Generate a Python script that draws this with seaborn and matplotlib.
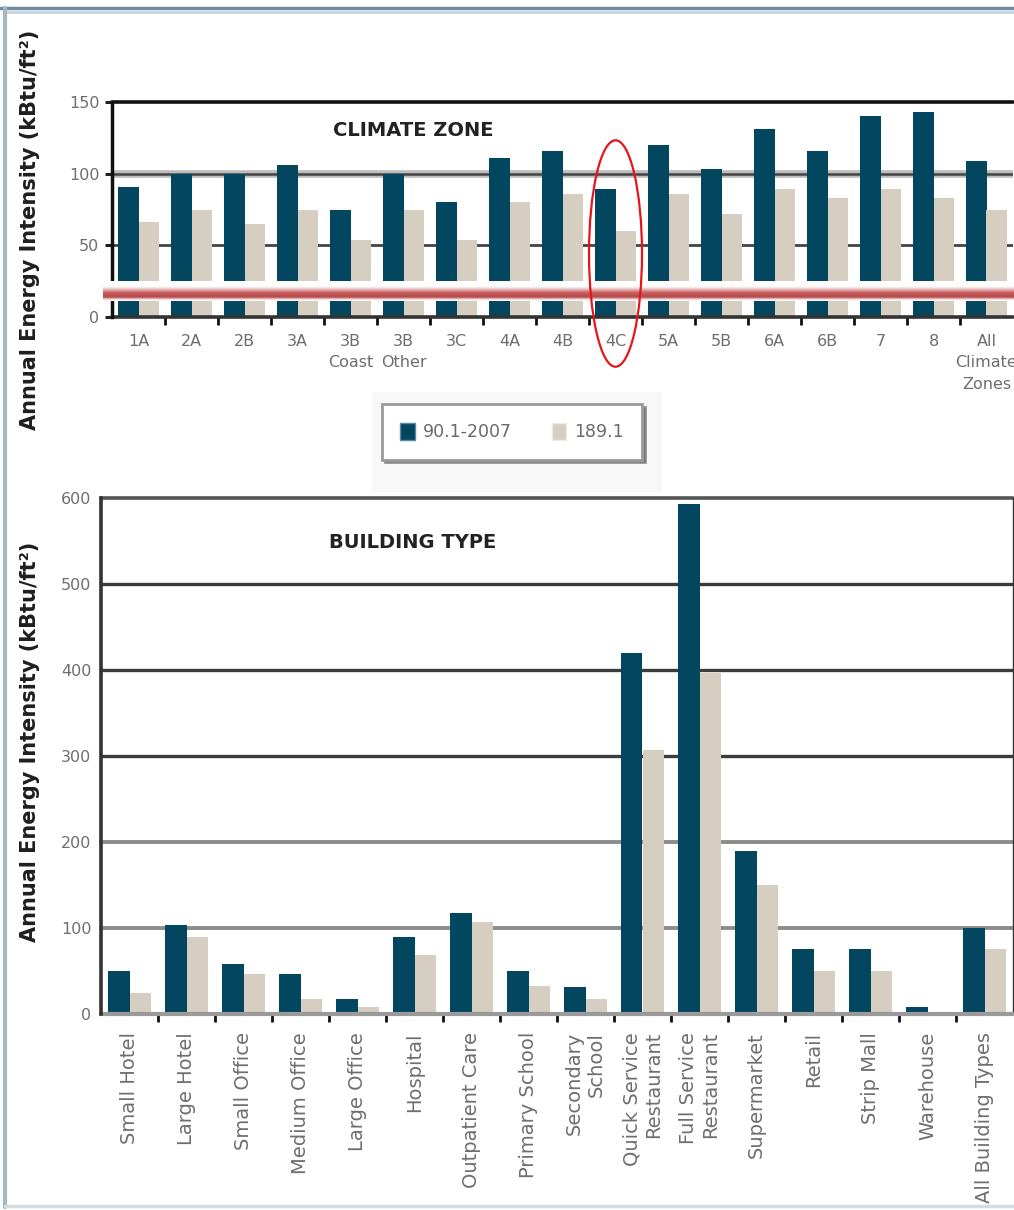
import numpy as np
import pandas as pd
import matplotlib
matplotlib.use("Agg")
import matplotlib.pyplot as plt
import seaborn as sns
from matplotlib.patches import Ellipse, Rectangle, Patch
from matplotlib.lines import Line2D
from matplotlib.colors import to_rgb

# ---- data -------------------------------------------------------------
series = ["90.1-2007", "189.1"]
colors = ["#03465f", "#d5cec1"]

zones = ["1A", "2A", "2B", "3A", "3B\nCoast", "3B\nOther", "3C", "4A", "4B",
         "4C", "5A", "5B", "6A", "6B", "7", "8", "All\nClimate\nZones"]
zone_9012007 = [91, 100, 100, 106, 75, 100, 80, 111, 116, 89, 120, 103, 131,
                116, 140, 143, 109]
zone_1891 = [66, 75, 65, 75, 54, 75, 54, 80, 86, 60, 86, 72, 89, 83, 89, 83, 75]

btypes = ["Small Hotel", "Large Hotel", "Small Office", "Medium Office",
          "Large Office", "Hospital", "Outpatient Care", "Primary School",
          "Secondary\nSchool", "Quick Service\nRestaurant",
          "Full Service\nRestaurant", "Supermarket", "Retail", "Strip Mall",
          "Warehouse", "All Building Types"]
btype_9012007 = [50, 104, 58, 46, 17, 89, 117, 50, 31, 420, 593, 189, 76, 76, 8, 100]
btype_1891 = [24, 89, 46, 17, 8, 69, 107, 32, 17, 307, 397, 150, 50, 50, 2, 76]

zone_yticks = [0, 50, 100, 150]
btype_yticks = [0, 100, 200, 300, 400, 500, 600]


def long_frame(cats, a, b, name):
    return pd.DataFrame({
        name: cats * 2,
        "Standard": [series[0]] * len(cats) + [series[1]] * len(cats),
        "EUI": list(a) + list(b),
    })


df_zone = long_frame(zones, zone_9012007, zone_1891, "Zone")
df_type = long_frame(btypes, btype_9012007, btype_1891, "Type")

sns.set_style("white")
plt.rcParams["font.family"] = ["DejaVu Sans"]

W, H = 1014, 1210
fig = plt.figure(figsize=(W / 100, H / 100), dpi=100)


def fx(px):
    return px / W


def fy(py):
    return 1 - py / H


label_grey = "#6e6e6e"

# ---- climate zone panel ----------------------------------------------
ax1 = fig.add_axes([fx(112), fy(317), fx(901), 215 / H])
sns.barplot(data=df_zone, x="Zone", y="EUI", hue="Standard",
            hue_order=series, palette=colors, width=0.77, saturation=1,
            legend=False, ax=ax1, zorder=3, linewidth=0)
ax1.set_xlim(-0.5, len(zones) - 0.5)
ax1.set_ylim(0, 150)
ax1.set_xlabel("")
ax1.set_ylabel("")
for s in ["top", "right", "bottom"]:
    ax1.spines[s].set_visible(False)
ax1.spines["left"].set_color("#111111")
ax1.spines["left"].set_linewidth(2.5)
ax1.spines["left"].set_zorder(5)

ax1.axhline(150, color="#111111", lw=2.6, zorder=1, clip_on=False)
ax1.axhline(100, color="#bdbdbd", lw=5.5, zorder=1)
ax1.axhline(100, color="#444444", lw=1.8, zorder=1)
ax1.axhline(50, color="#444444", lw=2.0, zorder=1)
ax1.axhline(0, color="#333333", lw=2.6, zorder=4, clip_on=False)

ax1.set_yticks(zone_yticks)
ax1.tick_params(axis="y", length=5, width=2.2, color="#222222",
                labelsize=11.5, labelcolor=label_grey, pad=4, left=True)
ax1.set_xticks(range(len(zones)))
ax1.set_xticklabels(zones, fontsize=11.5, color=label_grey, linespacing=1.55)
ax1.tick_params(axis="x", which="major", length=0, pad=12)
ax1.set_xticks(np.arange(0.5, len(zones) - 1, 1), minor=True)
ax1.tick_params(axis="x", which="minor", length=6, width=2,
                color="#111111", bottom=True, direction="out")

fig.text(fx(413), fy(131), "CLIMATE ZONE", fontsize=14, fontweight="bold",
         color="#222222", ha="center", va="center")

# white strip with a red rule across the lower part of the panel
band = np.array([to_rgb(c) for c in [
    "#ffffff", "#ffffff", "#ffffff", "#ffffff", "#ffffff", "#fdfafa",
    "#f7e8e8", "#efd0d0", "#e6b2b2", "#dc9696", "#d27c7c", "#ca6868",
    "#c45b5b", "#c05454", "#bd5050", "#bb4d4d", "#c56868", "#ddaaaa",
    "#f0e2e2", "#f8f6f6"]])[:, None, :]
bax = fig.add_axes([fx(103), fy(301), fx(W - 103), 20 / H])
bax.imshow(band, aspect="auto", interpolation="bilinear")
bax.axis("off")

# ellipse around 4C
fig.add_artist(Ellipse((9, 44.3), 1.0, 158, transform=ax1.transData,
                       fill=False, edgecolor="#e8141c", lw=1.6))

# ---- legend -----------------------------------------------------------
fig.add_artist(Rectangle((fx(372), fy(492)), fx(290), 100 / H,
                         transform=fig.transFigure, facecolor="#f8f8f8",
                         edgecolor="none", zorder=0))
handles = [Patch(facecolor=colors[0], edgecolor="#5a8aa0"),
           Patch(facecolor=colors[1], edgecolor="#eeeae2")]
leg = fig.legend(handles=handles, labels=series, loc="center",
                 bbox_to_anchor=(fx(512), fy(432)), ncol=2, frameon=True,
                 fancybox=False, edgecolor="#9a9a9a", fontsize=12.5,
                 labelcolor="#6a6a6a", handlelength=0.85, handleheight=1.2,
                 handletextpad=0.45, columnspacing=2.3, borderpad=1.05,
                 shadow={"color": "#6a6a6a", "alpha": 0.7})
leg.get_frame().set_linewidth(2.0)

# ---- building type panel ---------------------------------------------
ax2 = fig.add_axes([fx(101), fy(1014), fx(912), 516 / H])
sns.barplot(data=df_type, x="Type", y="EUI", hue="Standard",
            hue_order=series, palette=colors, width=0.77, saturation=1,
            legend=False, ax=ax2, zorder=3, linewidth=0)
ax2.set_xlim(-0.5, len(btypes) - 0.5)
ax2.set_ylim(0, 600)
ax2.set_xlabel("")
ax2.set_ylabel("")
for s in ["top", "bottom"]:
    ax2.spines[s].set_visible(False)
ax2.spines["left"].set_color("#333333")
ax2.spines["left"].set_linewidth(2.6)
ax2.spines["left"].set_zorder(5)
ax2.spines["right"].set_color("#333333")
ax2.spines["right"].set_linewidth(1.0)

for v, c, w in [(600, "#555555", 2.6), (500, "#3c3c3c", 2.4),
                (400, "#3c3c3c", 2.4), (300, "#3c3c3c", 2.4),
                (200, "#8c8c8c", 2.8), (100, "#8c8c8c", 2.8)]:
    ax2.axhline(v, color=c, lw=w, zorder=1, clip_on=False)
ax2.axhline(0, color="#9a9a9a", lw=3.0, zorder=4, clip_on=False)

ax2.set_yticks(btype_yticks)
ax2.tick_params(axis="y", length=0, labelsize=11.5, labelcolor=label_grey, pad=7)
ax2.set_xticks(range(len(btypes)))
ax2.set_xticklabels(btypes, fontsize=14, color=label_grey, rotation=90,
                    ha="center", va="top", multialignment="right",
                    linespacing=1.2)
ax2.tick_params(axis="x", which="major", length=0, pad=13)
ax2.set_xticks(np.arange(0.5, len(btypes) - 1, 1), minor=True)
ax2.tick_params(axis="x", which="minor", length=6, width=2,
                color="#111111", bottom=True, direction="out")

fig.text(fx(413), fy(543), "BUILDING TYPE", fontsize=14, fontweight="bold",
         color="#222222", ha="center", va="center")

# ---- shared axis titles ----------------------------------------------
ylab = "Annual Energy Intensity (kBtu/ft²)"
fig.text(fx(30), fy(230), ylab, rotation=90, fontsize=15,
         fontweight="bold", color="#1e1e1e", ha="center", va="center")
fig.text(fx(30), fy(742), ylab, rotation=90, fontsize=15,
         fontweight="bold", color="#1e1e1e", ha="center", va="center")

# ---- page frame -------------------------------------------------------
fig.add_artist(Line2D([0, 1], [fy(8), fy(8)], transform=fig.transFigure,
                      color="#6d8ca2", lw=2.5))
fig.add_artist(Line2D([fx(6), 1], [fy(12), fy(12)], transform=fig.transFigure,
                      color="#c9d5de", lw=2.0))
fig.add_artist(Line2D([fx(5), fx(5)], [fy(8), fy(1207)],
                      transform=fig.transFigure, color="#a3b7c6", lw=3.0))
fig.add_artist(Line2D([fx(5), 1], [fy(1206), fy(1206)],
                      transform=fig.transFigure, color="#d4dbe1", lw=2.5))

fig.savefig("out.png", dpi=100, facecolor="white")
